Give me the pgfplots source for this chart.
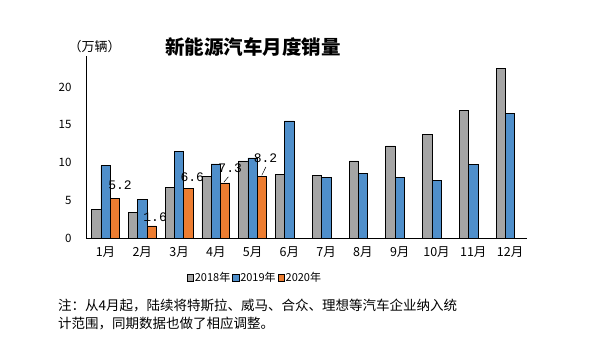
\documentclass[border=0pt]{standalone}
\usepackage{fontspec}
\usepackage{pgfplots}
\pgfplotsset{compat=1.18}
\setmainfont{Noto Sans CJK SC}
\newfontfamily\monofont{Liberation Mono}
\definecolor{cgray}{HTML}{A5A5A5}
\definecolor{cblue}{HTML}{4F8FCB}
\definecolor{corange}{HTML}{ED7D31}
\begin{document}
\begin{tikzpicture}
\path (0,0) rectangle (600pt,351pt);
\begin{axis}[
  at={(86pt,113pt)}, anchor=south west,
  scale only axis, width=441pt, height=182pt,
  xmin=-0.53, xmax=11.46, ymin=0, ymax=24.1,
  ybar=0pt, bar width=9.3pt,
  axis x line=bottom, axis y line=left,
  axis line style={-, line width=0.9pt, black},
  xtick={0,...,11},
  xticklabels={1月,2月,3月,4月,5月,6月,7月,8月,9月,10月,11月,12月},
  ytick={0,5,10,15,20},
  major tick length=0pt,
  /pgf/number format/assume math mode=true,
  xticklabel style={font=\fontsize{12.5}{14}\selectfont},
  yticklabel style={font=\fontsize{11.5}{13}\selectfont},
  x tick label style={yshift=-5pt},
  y tick label style={xshift=-11pt},
  legend columns=3,
  legend style={at={(0.382,-0.22)}, anchor=center, draw=none, fill=none,
    font=\fontsize{11}{13}\selectfont, column sep=0pt,
    nodes={inner xsep=1pt},
    /tikz/every even column/.append style={column sep=1pt}},
  legend image code/.code={\draw[#1,line width=0.5pt] (0pt,-3pt) rectangle (6.5pt,3.5pt);},
  every axis plot/.append style={draw=black, line width=0.6pt},
]
\addplot[fill=cgray, draw=black] coordinates {(0,3.8) (1,3.4) (2,6.7) (3,8.2) (4,10.2) (5,8.4) (6,8.3) (7,10.2) (8,12.2) (9,13.7) (10,16.9) (11,22.5)};
\addplot[fill=cblue, draw=black] coordinates {(0,9.6) (1,5.1) (2,11.5) (3,9.8) (4,10.6) (5,15.5) (6,8.0) (7,8.6) (8,8.0) (9,7.6) (10,9.7) (11,16.5)};
\addplot[fill=corange, draw=black] coordinates {(0,5.2) (1,1.6) (2,6.6) (3,7.3) (4,8.2)};
\legend{2018年,2019年,2020年}
\node[font=\monofont\fontsize{13}{15}\selectfont] at (axis cs:0.395,7.0) {5.2};
\node[font=\monofont\fontsize{13}{15}\selectfont] at (axis cs:1.35,2.8) {1.6};
\node[font=\monofont\fontsize{13}{15}\selectfont] at (axis cs:2.36,8.1) {6.6};
\node[font=\monofont\fontsize{13}{15}\selectfont] at (axis cs:3.39,9.3) {7.3};
\node[font=\monofont\fontsize{13}{15}\selectfont] at (axis cs:4.35,10.5) {8.2};
\draw[black, line width=0.5pt] (axis cs:3.22,7.4) -- (axis cs:3.34,8.1);
\draw[black, line width=0.5pt] (axis cs:4.25,8.3) -- (axis cs:4.36,9.4);
\end{axis}
\node[font=\fontsize{19.5}{22}\selectfont\bfseries] at (253pt,304pt) {新能源汽车月度销量};
\node[font=\fontsize{13}{15}\selectfont] at (94.5pt,304pt) {（万辆）};
\node[anchor=west, inner sep=0pt, font=\fontsize{13.5}{16}\selectfont] at (58pt,46pt) {注：从4月起，陆续将特斯拉、威马、合众、理想等汽车企业纳入统};
\node[anchor=west, inner sep=0pt, font=\fontsize{13.5}{16}\selectfont] at (58pt,28pt) {计范围，同期数据也做了相应调整。};
\end{tikzpicture}
\end{document}
